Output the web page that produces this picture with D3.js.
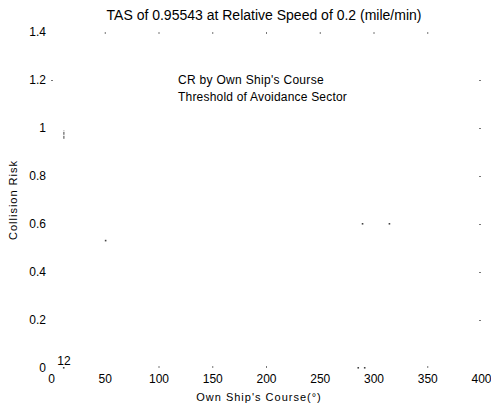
<!DOCTYPE html>
<html>
<head>
<meta charset="utf-8">
<script src="https://cdn.jsdelivr.net/npm/d3@7"></script>
<style>
  body { margin: 0; background: #fff; }
  text { font-family: "Liberation Sans", Arial, sans-serif; fill: #000; }
</style>
</head>
<body>
<div id="chart"></div>
<script>
// values
var courseTicks = [0, 50, 100, 150, 200, 250, 300, 350, 400];
var riskTicks = [0, 0.2, 0.4, 0.6, 0.8, 1, 1.2, 1.4];

// surviving points of "CR by Own Ship's Course"
var crCourse = [12, 51, 286, 292, 290, 315];
var crRisk = [0, 0.53, 0, 0, 0.6, 0.6];

// surviving piece of "Threshold of Avoidance Sector"
var thresholdCourse = [12, 12];
var thresholdRisk = [0.955, 0.99];

var sectorLabel = "12";
var sectorCourse = 12;

var svgWidth = 491;
var svgHeight = 405;
var margin = { top: 32, right: 10, bottom: 37, left: 51 };
var width = svgWidth - margin.left - margin.right;
var height = svgHeight - margin.top - margin.bottom;

var svg = d3.select("#chart")
  .append("svg")
  .attr("width", svgWidth)
  .attr("height", svgHeight);

var chartGroup = svg.append("g")
  .attr("transform", `translate(${margin.left}, ${margin.top})`);

var x = d3.scaleLinear().domain([0, 400]).range([0, width]);
var y = d3.scaleLinear().domain([0, 1.4]).range([height, 0]);

// tick labels only, the box lines have faded out of the scan
var bottomAxis = d3.axisBottom(x).tickValues(courseTicks).tickSize(0).tickPadding(6);
var leftAxis = d3.axisLeft(y).tickValues(riskTicks).tickSize(0).tickPadding(5)
  .tickFormat(d => d3.format("~g")(d));

var xAxis = chartGroup.append("g")
  .attr("transform", `translate(0, ${height})`)
  .call(bottomAxis);
var yAxis = chartGroup.append("g").call(leftAxis);

[xAxis, yAxis].forEach(function (a) {
  a.select(".domain").remove();
  a.selectAll("text").style("font-size", "12px").attr("fill", "#000");
});

// faint mirrored tick marks
var tickColor = "#777";
chartGroup.append("g")
  .call(d3.axisBottom(x).tickValues(courseTicks.slice(1, -1)).tickSize(2).tickFormat(""))
  .call(g => g.select(".domain").remove())
  .selectAll("line").attr("stroke", tickColor);
chartGroup.append("g")
  .attr("transform", `translate(0, ${height})`)
  .call(d3.axisTop(x).tickValues([100, 150, 200, 350]).tickSize(2).tickFormat(""))
  .call(g => g.select(".domain").remove())
  .selectAll("line").attr("stroke", tickColor);
chartGroup.append("g")
  .attr("transform", `translate(${width}, 0)`)
  .call(d3.axisLeft(y).tickValues(riskTicks.slice(1, -1)).tickSize(2).tickFormat(""))
  .call(g => g.select(".domain").remove())
  .selectAll("line").attr("stroke", tickColor);
chartGroup.append("g")
  .call(d3.axisRight(y).tickValues([1.2]).tickSize(2).tickFormat(""))
  .call(g => g.select(".domain").remove())
  .selectAll("line").attr("stroke", tickColor);

// CR points
var crData = crCourse.map((c, i) => ({ course: c, risk: crRisk[i] }));
chartGroup.selectAll("rect.cr")
  .data(crData)
  .enter()
  .append("rect")
  .attr("class", "cr")
  .attr("x", d => x(d.course) - 1)
  .attr("y", d => y(d.risk) - 1)
  .attr("width", 1.6)
  .attr("height", 1.6)
  .attr("fill", "#444");

// threshold piece
var line = d3.line()
  .x(d => x(d[0]))
  .y(d => y(d[1]));
chartGroup.append("path")
  .datum(thresholdCourse.map((c, i) => [c, thresholdRisk[i]]))
  .attr("d", line)
  .attr("stroke", "#444")
  .attr("stroke-width", 1)
  .attr("stroke-dasharray", "3,1")
  .attr("fill", "none");

chartGroup.append("text")
  .attr("x", x(sectorCourse))
  .attr("y", y(0) - 3)
  .attr("text-anchor", "middle")
  .style("font-size", "12px")
  .text(sectorLabel);

// legend
var legend = chartGroup.append("g")
  .attr("transform", `translate(${178 - margin.left}, ${84 - margin.top})`);
legend.append("text").attr("x", 0).attr("y", 0)
  .style("font-size", "12px").style("letter-spacing", "0.3px")
  .text("CR by Own Ship's Course");
legend.append("text").attr("x", 0).attr("y", 17)
  .style("font-size", "12px").style("letter-spacing", "0.2px")
  .text("Threshold of Avoidance Sector");

// title and axis labels
svg.append("text")
  .attr("x", 264)
  .attr("y", 20)
  .attr("text-anchor", "middle")
  .style("font-size", "14px")
  .text("TAS of 0.95543 at Relative Speed of 0.2 (mile/min)");

svg.append("text")
  .attr("x", 259)
  .attr("y", 401)
  .attr("text-anchor", "middle")
  .style("font-size", "11px")
  .style("letter-spacing", "1px")
  .text("Own Ship's Course(°)");

svg.append("text")
  .attr("transform", "rotate(-90)")
  .attr("x", -(margin.top + height / 2))
  .attr("y", 17)
  .attr("text-anchor", "middle")
  .style("font-size", "11px")
  .style("letter-spacing", "1px")
  .text("Collision Risk");
</script>
</body>
</html>
